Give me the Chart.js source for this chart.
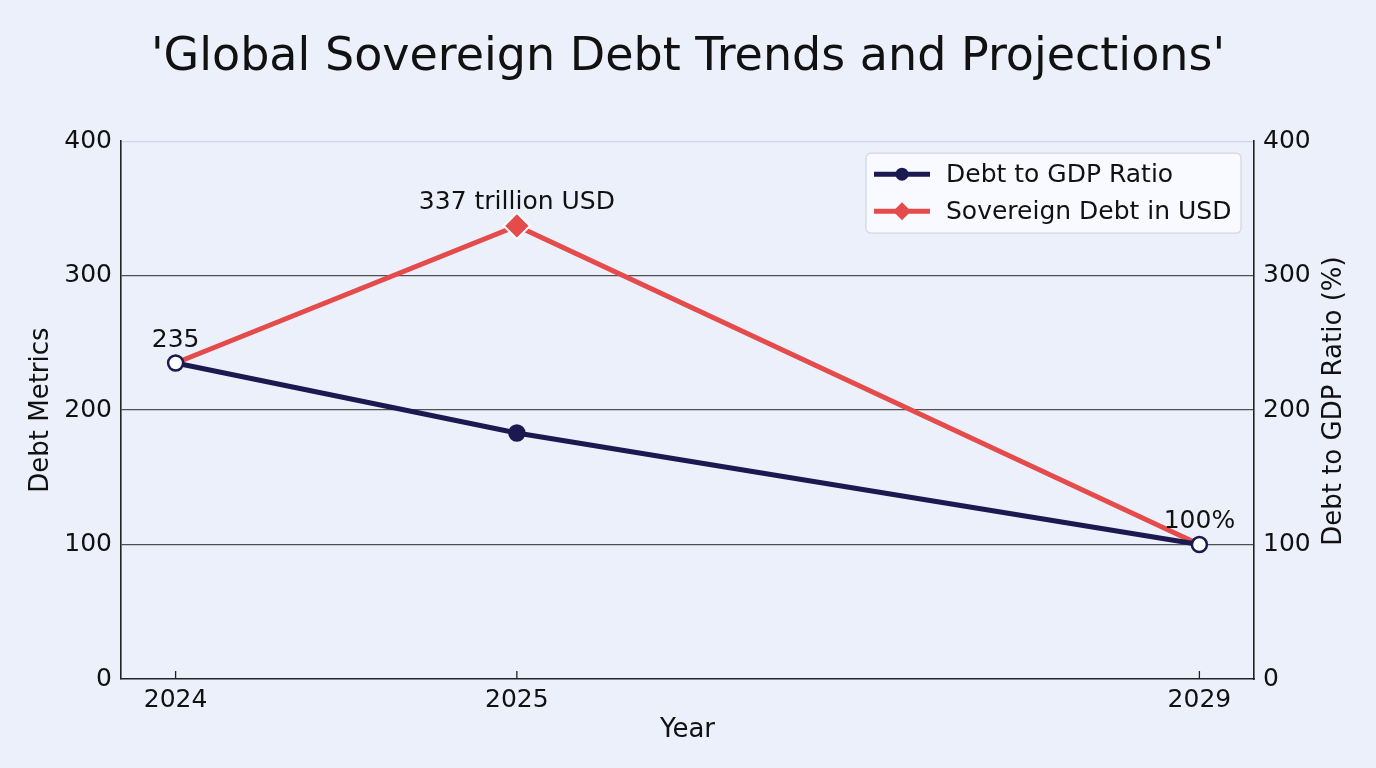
<!DOCTYPE html>
<html><head><meta charset="utf-8">
<script src="https://cdn.jsdelivr.net/npm/chart.js@4.4.1/dist/chart.umd.min.js"></script>
<style>html,body{margin:0;padding:0;background:#ecf0fb;overflow:hidden}#wrap{width:1376px;height:768px}</style>
</head><body><div id="wrap"><canvas id="c" width="1376" height="768"></canvas></div>
<script>
// ---- data ----
const xSlots = ['2024', '2025', '', '2029'];          // category slots along the x axis (blank slot = gap)
const years = ['2024', '2025', '2029'];
const debtToGdp = [235, 183, 100];
const sovereignDebt = [235, 337, 100];
const debtLabels = ['235', '', '100%'];
const sovLabels = ['', '337 trillion USD', ''];
const yTicks = [0, 100, 200, 300, 400];
const seriesNames = ['Debt to GDP Ratio', 'Sovereign Debt in USD'];
const titleText = "'Global Sovereign Debt Trends and Projections'";

const NAVY = '#1a1a50';
const RED = '#e54b4b';
const BG = '#ecf0fb';
const FONT = "'DejaVu Sans', sans-serif";

Chart.defaults.font.family = FONT;
Chart.defaults.font.size = 25;
Chart.defaults.color = '#111';

const toPts = arr => arr.map((v, i) => ({ x: xSlots.indexOf(years[i]), y: v }));

const bgPlugin = {
  id: 'bg',
  beforeDraw(chart) {
    const c = chart.ctx;
    c.save(); c.fillStyle = BG; c.fillRect(0, 0, chart.width, chart.height); c.restore();
  }
};

const extrasPlugin = {
  id: 'extras',
  afterDraw(chart) {
    const c = chart.ctx, ca = chart.chartArea, xs = chart.scales.x;
    c.save();
    // inward tick marks on x axis
    c.strokeStyle = '#222'; c.lineWidth = 1.3;
    xs.ticks.forEach(t => {
      if (!xSlots[t.value]) return;
      const px = xs.getPixelForValue(t.value);
      c.beginPath(); c.moveTo(px, ca.bottom); c.lineTo(px, ca.bottom - 8); c.stroke();
    });
    // right axis title (reads bottom-to-top)
    c.font = "26px " + FONT;
    c.fillStyle = '#111'; c.textAlign = 'center'; c.textBaseline = 'middle';
    c.translate(ca.right + 80, (ca.top + ca.bottom) / 2 - 9);
    c.rotate(-Math.PI / 2);
    c.fillText('Debt to GDP Ratio (%)', 0, 0);
    c.restore();

    // point annotations
    c.save();
    c.font = "25px " + FONT;
    c.fillStyle = '#111'; c.textAlign = 'center'; c.textBaseline = 'middle';
    [debtLabels, sovLabels].forEach((labs, di) => {
      const meta = chart.getDatasetMeta(di);
      labs.forEach((t, i) => {
        if (!t) return;
        const el = meta.data[i];
        c.fillText(t, el.x, el.y - 23);
      });
    });
    c.restore();

    // legend
    c.save();
    const bw = 375, bh = 80;
    const bx = ca.right - 13 - bw, by = ca.top + 12;
    c.beginPath();
    c.roundRect(bx, by, bw, bh, 5);
    c.fillStyle = 'rgba(250,251,255,0.85)'; c.fill();
    c.strokeStyle = '#d3d6e2'; c.lineWidth = 1.2; c.stroke();
    chart.data.datasets.forEach((ds, i) => {
      const ry = by + 21 + i * 37;
      const x0 = bx + 8, x1 = bx + 64, xm = (x0 + x1) / 2;
      c.strokeStyle = ds.borderColor; c.lineWidth = 5; c.lineCap = 'butt';
      c.beginPath(); c.moveTo(x0, ry); c.lineTo(x1, ry); c.stroke();
      c.fillStyle = ds.borderColor;
      c.beginPath();
      if (ds.pointStyle === 'rectRot') {
        const r = 9;
        c.moveTo(xm - r, ry); c.lineTo(xm, ry - r); c.lineTo(xm + r, ry); c.lineTo(xm, ry + r); c.closePath();
      } else {
        c.arc(xm, ry, 6.5, 0, Math.PI * 2);
      }
      c.fill();
      c.fillStyle = '#111'; c.font = "25px " + FONT;
      c.textAlign = 'left'; c.textBaseline = 'middle';
      c.fillText(ds.label, bx + 80, ry + 1);
    });
    c.restore();
  }
};

new Chart(document.getElementById('c'), {
  type: 'line',
  data: {
    datasets: [
      {
        label: seriesNames[0],
        data: toPts(debtToGdp),
        yAxisID: 'y2',
        borderColor: NAVY,
        borderWidth: 5,
        pointRadius: 7.5,
        pointBackgroundColor: ['#ffffff', NAVY, '#ffffff'],
        pointBorderColor: NAVY,
        pointBorderWidth: 2.5,
        pointStyle: 'circle',
        tension: 0
      },
      {
        label: seriesNames[1],
        data: toPts(sovereignDebt),
        yAxisID: 'y',
        borderColor: RED,
        borderWidth: 5,
        pointRadius: [0, 13, 0],
        pointBackgroundColor: RED,
        pointBorderColor: '#ffffff',
        pointBorderWidth: 2,
        pointStyle: 'rectRot',
        tension: 0
      }
    ]
  },
  options: {
    responsive: false,
    animation: false,
    devicePixelRatio: 1,
    layout: { padding: 0 },
    plugins: {
      legend: { display: false },
      tooltip: { enabled: false },
      title: {
        display: true,
        text: titleText,
        font: { size: 46, weight: 'normal', lineHeight: 1.2 },
        color: '#111',
        padding: { top: 30, bottom: 56 }
      }
    },
    scales: {
      x: {
        type: 'linear',
        min: -0.16,
        max: 3.16,
        afterBuildTicks(scale) {
          scale.ticks = xSlots.map((l, i) => ({ value: i })).filter(t => xSlots[t.value] !== '');
        },
        afterFit(scale) { scale.height = 89; },
        ticks: {
          autoSkip: false,
          maxRotation: 0,
          padding: 6,
          font: { size: 25 },
          color: '#111',
          callback: v => xSlots[v]
        },
        grid: { display: false, drawTicks: false },
        border: { display: true, color: '#222', width: 1.6 },
        title: { display: true, text: 'Year', font: { size: 26 }, color: '#111', padding: { top: 0, bottom: 22 } }
      },
      y: {
        position: 'left',
        min: 0, max: 400,
        afterBuildTicks(scale) { scale.ticks = yTicks.map(v => ({ value: v })); },
        afterFit(scale) { scale.width = 121; },
        ticks: { padding: 9, font: { size: 25 }, color: '#111' },
        grid: {
          drawTicks: false,
          color: ctx => ctx.tick.value === 400 ? 'rgba(205,210,228,0.9)' : (ctx.tick.value === 0 ? 'rgba(0,0,0,0)' : '#505050'),
          lineWidth: 1.2
        },
        border: { display: true, color: '#222', width: 1.6 },
        title: { display: true, text: 'Debt Metrics', font: { size: 26 }, color: '#111', padding: { top: 26, bottom: 0 } }
      },
      y2: {
        position: 'right',
        min: 0, max: 400,
        afterBuildTicks(scale) { scale.ticks = yTicks.map(v => ({ value: v })); },
        afterFit(scale) { scale.width = 122; },
        ticks: { padding: 9, font: { size: 25 }, color: '#111' },
        grid: { display: false, drawTicks: false },
        border: { display: true, color: '#222', width: 1.6 }
      }
    }
  },
  plugins: [bgPlugin, extrasPlugin]
});
</script></body></html>
